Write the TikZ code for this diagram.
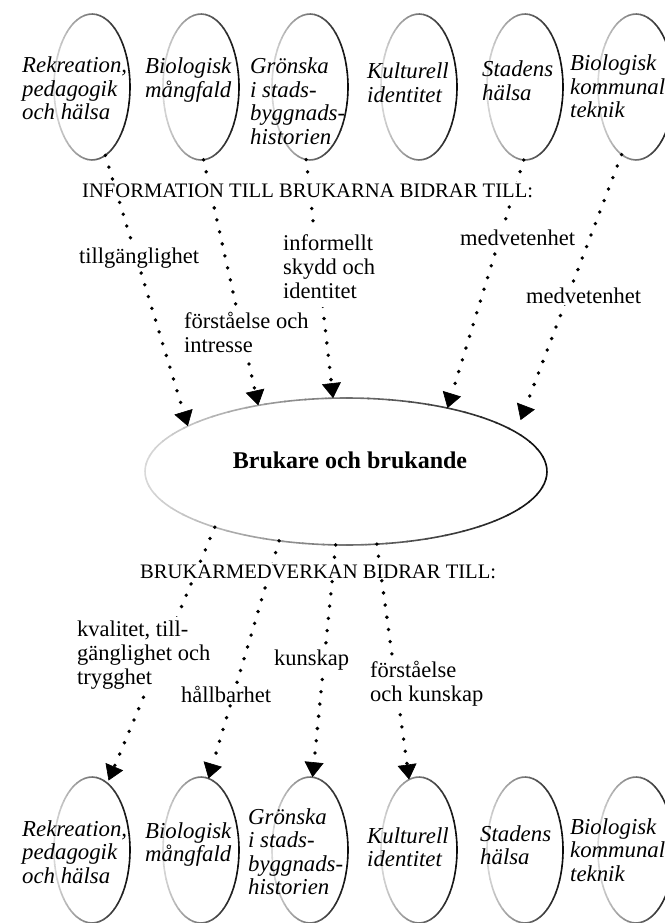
\documentclass[tikz,border=0pt]{standalone}
\usepackage{fontspec}
\setmainfont{Liberation Serif}
\usetikzlibrary{arrows.meta,shapes.geometric}

% several lines of left-aligned text, baseline on the first line
\newcommand\txtlines[1]{\begin{tabular}[t]{@{}l@{}}#1\end{tabular}}

% oval outline that darkens from left (light) to right (dark)
\newcommand\toneoval[3]{%
  \foreach \ang in {0,6,...,354}{%
    \pgfmathsetmacro\edgegray{0.45-0.4*cos(\ang+3)}%
    \definecolor{edgetone}{gray}{\edgegray}%
    \draw[draw=edgetone, line width=1.6pt]
      ([shift={(\ang:#2 and #3)}]#1.center)
      arc[start angle=\ang, end angle=\ang+6.6, x radius=#2, y radius=#3];
  }}

\tikzset{
  oval/.style={ellipse, minimum width=76pt, minimum height=146pt,
    inner sep=0pt, outer sep=0pt},
  bigoval/.style={ellipse, minimum width=402pt, minimum height=147pt,
    inner sep=0pt, outer sep=0pt},
  topic/.style={anchor=base west, inner sep=0pt,
    font=\itshape\fontsize{22.8}{23.5}\selectfont},
  lbl/.style={anchor=base west, fill=white, inner xsep=1pt, inner ysep=2pt,
    font=\fontsize{22.5}{24}\selectfont},
  caps/.style={anchor=base west, fill=white, inner xsep=1pt, inner ysep=1pt,
    font=\fontsize{20.6}{24}\selectfont},
  flow/.style={line width=3.8pt, line cap=round,
    dash pattern=on 0pt off 12.3pt,
    -{Triangle[length=15pt,width=19pt,line width=0.6pt]}},
}

\begin{document}
\begin{tikzpicture}[x=1pt,y=-1pt]
\useasboundingbox (0,0) rectangle (664,923);

% top row of themes
\node[oval] (t1) at (92,87) {};
\node[oval] (t2) at (201,87) {};
\node[oval] (t3) at (310,87) {};
\node[oval] (t4) at (419,87) {};
\node[oval] (t5) at (525,87) {};
\node[oval] (t6) at (636,87) {};
% central oval
\node[bigoval] (c) at (346,471.5) {};
% bottom row of themes
\node[oval] (b1) at (92,850) {};
\node[oval] (b2) at (201,850) {};
\node[oval] (b3) at (310,850) {};
\node[oval] (b4) at (419,850) {};
\node[oval] (b5) at (525,850) {};
\node[oval] (b6) at (636,850) {};

\foreach \n in {t1,t2,t3,t4,t5,t6,b1,b2,b3,b4,b5,b6}{\toneoval{\n}{38}{73}}
\toneoval{c}{201}{73.5}

% theme texts
\node[topic] (t1txt) at (22,73) {\txtlines{Rekreation,\\pedagogik\\och hälsa}};
\node[topic] (t2txt) at (145,74) {\txtlines{Biologisk\\mångfald}};
\node[topic] (t3txt) at (250,74) {\txtlines{Grönska\\i stads-\\byggnads-\\historien}};
\node[topic] (t4txt) at (367,79) {\txtlines{Kulturell\\identitet}};
\node[topic] (t5txt) at (482,77) {\txtlines{Stadens\\hälsa}};
\node[topic] (t6txt) at (570,71) {\txtlines{Biologisk\\kommunal\\teknik}};

\node[topic] (b1txt) at (22,836) {\txtlines{Rekreation,\\pedagogik\\och hälsa}};
\node[topic] (b2txt) at (145,838) {\txtlines{Biologisk\\mångfald}};
\node[topic] (b3txt) at (248,824) {\txtlines{Grönska\\i stads-\\byggnads-\\historien}};
\node[topic] (b4txt) at (367,843) {\txtlines{Kulturell\\identitet}};
\node[topic] (b5txt) at (480,841) {\txtlines{Stadens\\hälsa}};
\node[topic] (b6txt) at (570,834) {\txtlines{Biologisk\\kommunal\\teknik}};

\node[anchor=base, inner sep=0pt, font=\bfseries\fontsize{24}{28}\selectfont]
  (ctxt) at (350,468) {Brukare och brukande};

% information flows into the central oval
\draw[flow] (t1.-79.5) -- (c.164.3);
\draw[flow] (t2.-88) -- (c.143.5);
\draw[flow] (t3.-93.2) -- (c.100.6);
\draw[flow] (t5.-91.6) -- (c.32.3);
\draw[flow, shorten >=13pt] (t6.-102.3) -- (c.13.3);

% participation flows out to the themes
\draw[flow, shorten >=3pt] (c.-157.8) -- (b1.77.5);
\draw[flow] (c.-134) -- (b2.84.5);
\draw[flow] (c.-98.5) -- (b3.88.4);
\draw[flow] (c.-67.8) -- (b4.98.7);

% labels on the flows
\node[caps] (infohead) at (81,197) {INFORMATION TILL BRUKARNA BIDRAR TILL:};
\node[lbl] (l1) at (78,263) {tillgänglighet};
\node[lbl] (l2) at (183,328) {\txtlines{förståelse och\\intresse}};
\node[lbl] (l3) at (282,250) {\txtlines{informellt\\skydd och\\identitet}};
\node[lbl] (l4) at (459,245) {medvetenhet};
\node[lbl] (l5) at (525,303) {medvetenhet};

\node[caps] (parthead) at (139,578) {BRUKARMEDVERKAN BIDRAR TILL:};
\node[lbl] (m1) at (76,636) {\txtlines{kvalitet, till-\\gänglighet och\\trygghet}};
\node[lbl] (m2) at (180,702) {hållbarhet};
\node[lbl] (m3) at (273,665) {kunskap};
\node[lbl] (m4) at (369,677) {\txtlines{förståelse\\och kunskap}};
\end{tikzpicture}
\end{document}
